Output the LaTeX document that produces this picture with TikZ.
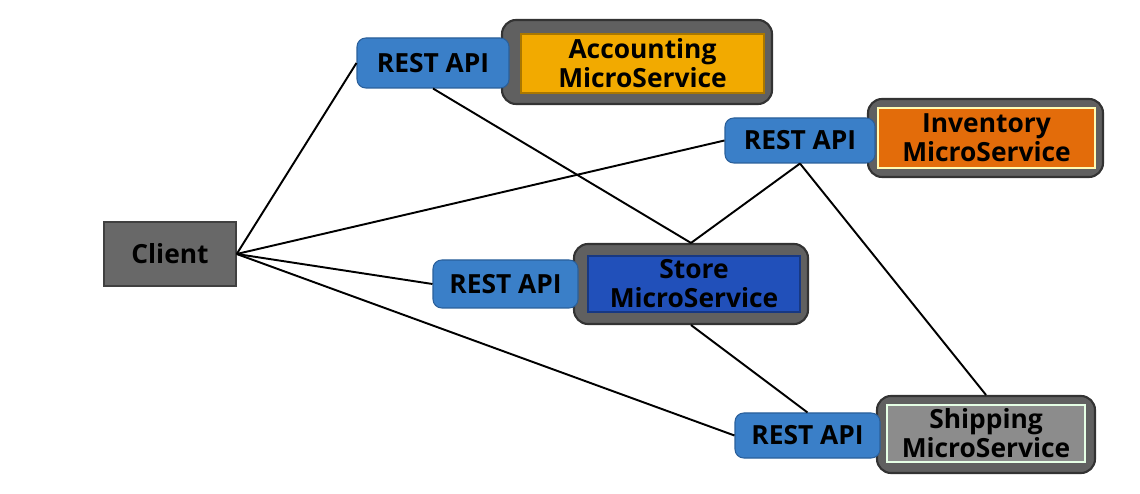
\documentclass[tikz,border=0pt]{standalone}
\usepackage{fontspec}
\setmainfont{Open Sans}
\usetikzlibrary{positioning,calc}

\definecolor{apiblue}{HTML}{3A7FC8}
\definecolor{apiedge}{HTML}{2A5F9A}
\definecolor{shellgray}{HTML}{606060}
\definecolor{acctfill}{HTML}{F2AA00}
\definecolor{invfill}{HTML}{E36C0A}
\definecolor{storefill}{HTML}{2150BA}
\definecolor{shipfill}{HTML}{8C8C8C}
\definecolor{clientfill}{HTML}{686868}

\begin{document}
\begin{tikzpicture}[
    boxfont/.style={font=\bfseries\fontsize{15}{16.5}\selectfont, text=black, align=center, inner sep=0pt},
    api/.style={boxfont, draw=apiedge, line width=0.6pt, fill=apiblue, rounded corners=5pt},
    shell/.style={draw=black!80, line width=1.2pt, fill=shellgray, rounded corners=8pt},
    svc/.style={boxfont, fill=#1, line width=1pt},
    link/.style={line width=1.1pt, black}
  ]
    \useasboundingbox (0,0) rectangle (22.8,-9.88);

    % client
    \node[boxfont, draw=black!75, line width=0.8pt, fill=clientfill,
          minimum width=2.64cm, minimum height=1.28cm] (client) at (3.40,-5.08) {Client};

    % accounting
    \node[shell, minimum width=5.40cm, minimum height=1.68cm] (acctshell) at (12.74,-1.24) {};
    \node[svc=acctfill, draw=acctfill!70!black, minimum width=4.86cm, minimum height=1.18cm] (acct) at (12.85,-1.27) {Accounting\\MicroService};
    \node[api, minimum width=3.04cm, minimum height=1.00cm] (acctapi) at (8.66,-1.26) {REST API};

    % inventory
    \node[shell, minimum width=4.70cm, minimum height=1.56cm] (invshell) at (19.71,-2.76) {};
    \node[svc=invfill, draw=yellow!30!white, minimum width=4.34cm, minimum height=1.20cm] (inv) at (19.73,-2.76) {Inventory\\MicroService};
    \node[api, minimum width=3.00cm, minimum height=0.90cm] (invapi) at (16.00,-2.81) {REST API};

    % store
    \node[shell, minimum width=4.68cm, minimum height=1.60cm] (storeshell) at (13.82,-5.68) {};
    \node[svc=storefill, draw=storefill!70!black, minimum width=4.24cm, minimum height=1.12cm] (store) at (13.88,-5.68) {Store\\MicroService};
    \node[api, minimum width=2.90cm, minimum height=0.96cm] (storeapi) at (10.11,-5.68) {REST API};

    % shipping
    \node[shell, minimum width=4.36cm, minimum height=1.54cm] (shipshell) at (19.72,-8.69) {};
    \node[svc=shipfill, draw=green!10!white, minimum width=3.96cm, minimum height=1.14cm] (ship) at (19.72,-8.67) {Shipping\\MicroService};
    \node[api, minimum width=2.90cm, minimum height=0.90cm] (shipapi) at (16.15,-8.71) {REST API};

    % links
    \draw[link] (client.east) -- (acctapi.west);
    \draw[link] (client.east) -- (invapi.west);
    \draw[link] (client.east) -- (storeapi.west);
    \draw[link] (client.east) -- (shipapi.west);
    \draw[link] (acctapi.south) -- (storeshell.north);
    \draw[link] (invapi.south) -- (storeshell.north);
    \draw[link] (invapi.south) -- (shipshell.north);
    \draw[link] (storeshell.south) -- (shipapi.north);
  \end{tikzpicture}
\end{document}
